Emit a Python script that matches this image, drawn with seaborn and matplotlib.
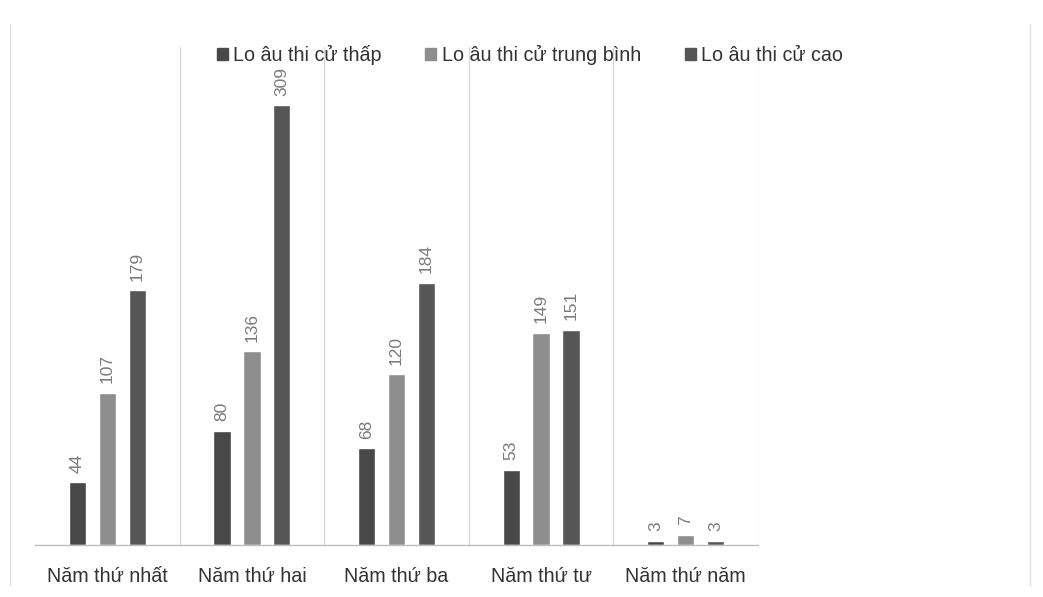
import matplotlib
matplotlib.use("Agg")
import matplotlib.pyplot as plt
import seaborn as sns
import pandas as pd

categories = ["Năm thứ nhất", "Năm thứ hai", "Năm thứ ba", "Năm thứ tư", "Năm thứ năm"]
series_names = ["Lo âu thi cử thấp", "Lo âu thi cử trung bình", "Lo âu thi cử cao"]
low = [44, 80, 68, 53, 3]
medium = [107, 136, 120, 149, 7]
high = [179, 309, 184, 151, 3]

df = pd.DataFrame({
    "year": categories * 3,
    "group": [series_names[0]] * 5 + [series_names[1]] * 5 + [series_names[2]] * 5,
    "count": low + medium + high,
})

sns.set_theme(style="white")
plt.rcParams["font.family"] = ["Liberation Sans", "DejaVu Sans"]

palette = ["#484848", "#8e8e8e", "#565656"]

fig = plt.figure(figsize=(10.43, 5.97), dpi=100)
ax = fig.add_axes([35 / 1043, 52 / 597, (758 - 35) / 1043, 498 / 597])

sns.barplot(data=df, x="year", y="count", hue="group", order=categories,
            hue_order=series_names, palette=palette, width=0.62, gap=0.42,
            saturation=1, ax=ax, legend=False)

for cont in ax.containers:
    ax.bar_label(cont, fmt="%d", rotation=90, padding=7, color="#7a7a7a",
                 fontsize=12.5)

ax.set_ylim(0, 350)
ax.set_xlim(-0.5, len(categories) - 0.5)
ax.set_yticks([])
ax.set_xlabel("")
ax.set_ylabel("")
for s in ["top", "left", "right"]:
    ax.spines[s].set_visible(False)
ax.spines["bottom"].set_color("#bdbdbd")
ax.spines["bottom"].set_linewidth(1.0)

# separators between year groups
for xb in [0.5, 1.5, 2.5, 3.5, 4.5]:
    ax.axvline(xb, color="#d6d6d6", linewidth=0.9, zorder=0)

ax.tick_params(axis="x", length=0, pad=16, labelsize=14.2, labelcolor="#333333")

# legend across the top
handles = [plt.Rectangle((0, 0), 1, 1, color=c) for c in palette]
fig.legend(handles, series_names, loc="center", bbox_to_anchor=(530 / 1043, 1 - 55 / 597),
           ncol=3, frameon=False, fontsize=14.2, handlelength=0.55, handleheight=0.55,
           handletextpad=0.3, columnspacing=2.2, labelcolor="#333333")

# outer chart frame edges
fig.add_artist(plt.Line2D([10 / 1043, 10 / 1043], [0.02, 0.96], color="#e0e0e0", lw=1,
                          transform=fig.transFigure))
fig.add_artist(plt.Line2D([1030 / 1043, 1030 / 1043], [0.02, 0.96], color="#e0e0e0", lw=1,
                          transform=fig.transFigure))

fig.savefig("out.png", dpi=100)
